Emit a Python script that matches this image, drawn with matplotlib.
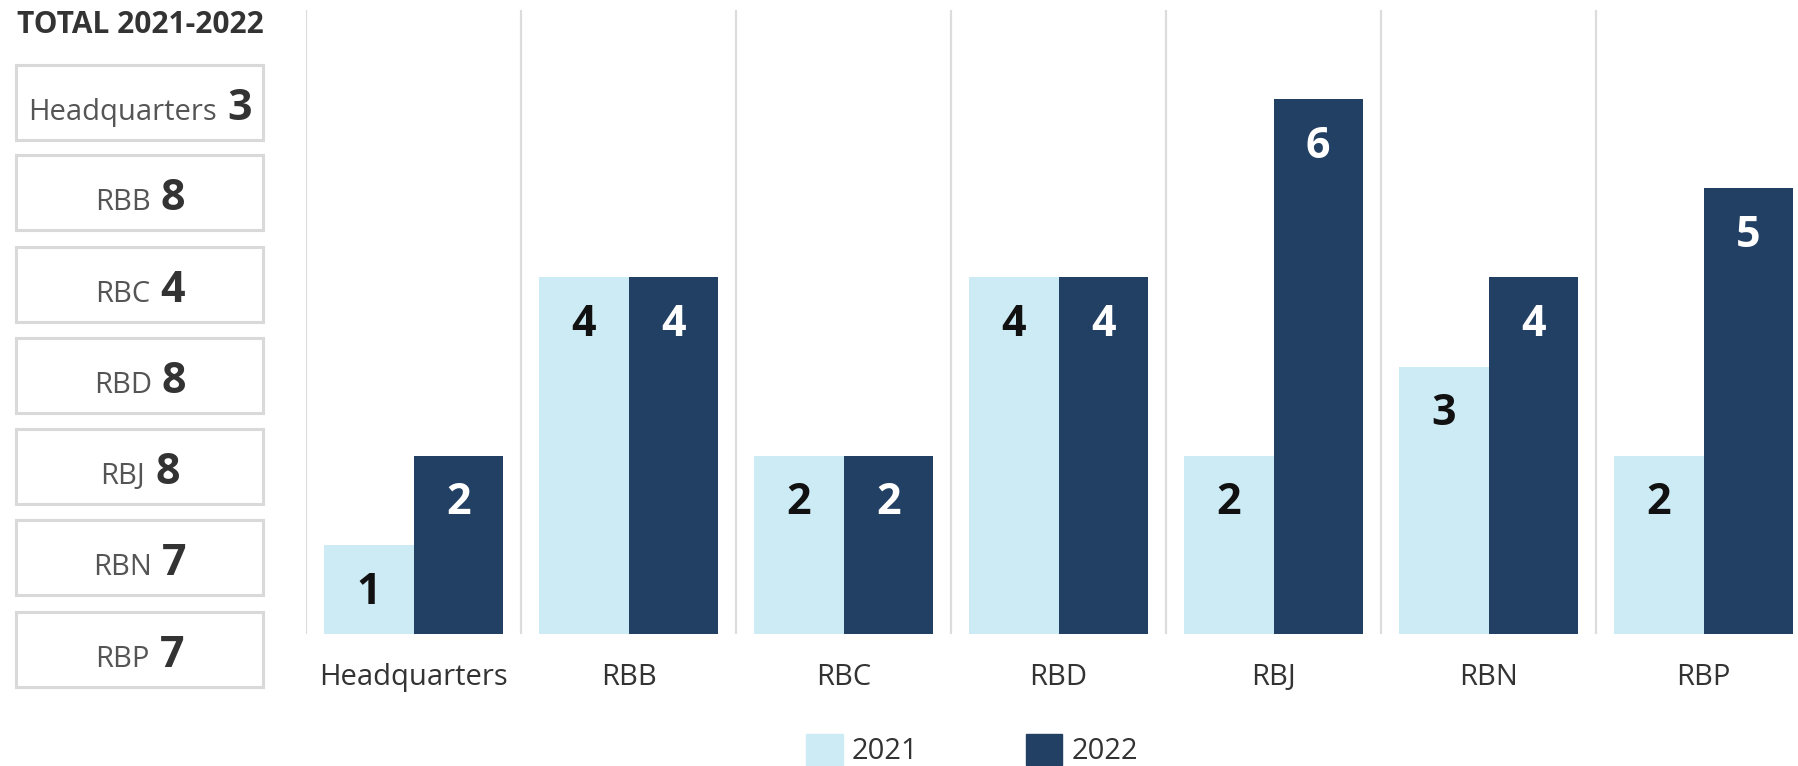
import numpy as np
import matplotlib.pyplot as plt
from matplotlib.patches import Rectangle, Patch

plt.rcParams['font.family'] = ['Open Sans', 'DejaVu Sans']

categories = ['Headquarters', 'RBB', 'RBC', 'RBD', 'RBJ', 'RBN', 'RBP']
v2021 = [1, 4, 2, 4, 2, 3, 2]
v2022 = [2, 4, 2, 4, 6, 4, 5]
totals = [3, 8, 4, 8, 8, 7, 7]

c21 = '#cdebf5'
c22 = '#224063'
W, H = 1799, 766

fig = plt.figure(figsize=(W / 100, H / 100), dpi=100)
ax = fig.add_axes([306 / W, (H - 634) / H, 1 - 306 / W, 624 / H])

x = np.arange(len(categories))
w = 0.416
ax.vlines(x - 0.5, 0, 7, color='#dcdcdc', lw=1.6, zorder=0)
b1 = ax.bar(x - w / 2, v2021, w, color=c21, zorder=2)
b2 = ax.bar(x + w / 2, v2022, w, color=c22, zorder=2)

for xi, v in zip(x, v2021):
    ax.text(xi - w / 2, v - 0.53, str(v), ha='center', va='center',
            fontsize=31, fontweight='bold', color='#111111')
for xi, v in zip(x, v2022):
    ax.text(xi + w / 2, v - 0.53, str(v), ha='center', va='center',
            fontsize=31, fontweight='bold', color='white')

ax.set_xlim(-0.5, 6.444)
ax.set_ylim(0, 7)
ax.set_yticks([])
ax.set_xticks(x, categories, fontsize=21, color='#333333')
ax.tick_params(axis='x', length=0, pad=21)
for s in ax.spines.values():
    s.set_visible(False)

# legend
handles = [Patch(color=c21, label='2021'), Patch(color=c22, label='2022')]
fig.legend(handles=handles, loc='center', bbox_to_anchor=(972 / W, 1 - 750 / H),
           ncol=2, frameon=False, fontsize=21, handlelength=1.25, handleheight=1.3,
           handletextpad=0.3, columnspacing=3.7, borderpad=0,
           labelcolor='#333333')

# left summary panel
fig.text(140 / W, 1 - 25 / H, 'TOTAL 2021-2022', ha='center', va='center',
         fontsize=21.5, fontweight='bold', color='#333333')

box_tops = [65, 155, 247, 338, 429, 520, 612]
renderer = fig.canvas.get_renderer()
for top, name, tot in zip(box_tops, categories, totals):
    fig.patches.append(Rectangle((16 / W, 1 - (top + 75) / H), 247 / W, 75 / H,
                                 transform=fig.transFigure, fill=False,
                                 ec='#d9d9d9', lw=2.2))
    base = 1 - (top + 55) / H
    t1 = fig.text(0, base, name, ha='left', va='baseline', fontsize=21,
                  color='#555555')
    t2 = fig.text(0, base, str(tot), ha='left', va='baseline', fontsize=31,
                  fontweight='bold', color='#333333')
    w1 = t1.get_window_extent(renderer).width
    w2 = t2.get_window_extent(renderer).width
    gap = 10
    start = 140 - (w1 + gap + w2) / 2
    t1.set_x(start / W)
    t2.set_x((start + w1 + gap) / W)

fig.savefig('out.png', dpi=100)
